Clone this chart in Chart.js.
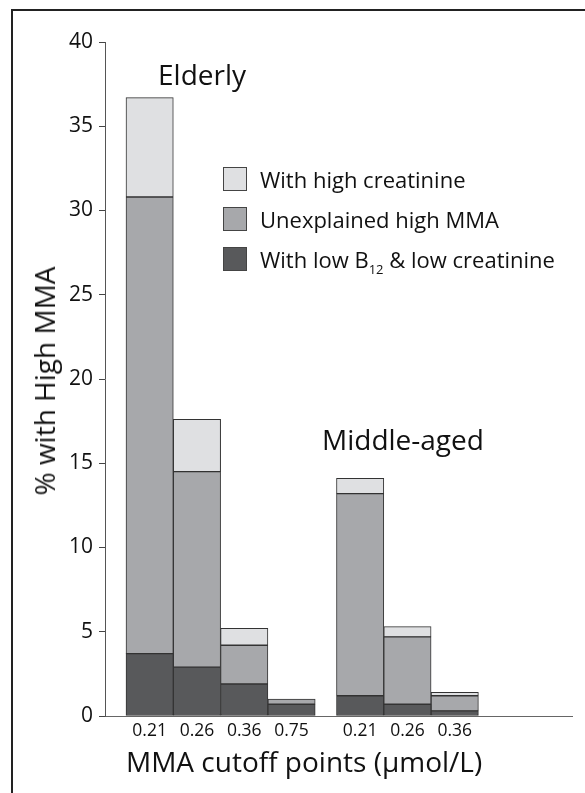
<!DOCTYPE html>
<html>
<head>
<meta charset="utf-8">
<title>% with High MMA</title>
<script src="https://cdn.jsdelivr.net/npm/chart.js@4.4.1/dist/chart.umd.min.js"></script>
<style>
    body { margin: 0; background: #fff; overflow: hidden; font-family: 'Open Sans', sans-serif; color: #111; }
    .wrap { position: relative; width: 585px; height: 793px; overflow: hidden; }
    .frame { position: absolute; left: 11px; top: 9px; width: 640px; height: 840px; border: 2px solid #222; }
    .wrap canvas { position: absolute; left: 0; top: 0; }
    .txt { position: absolute; white-space: nowrap; line-height: 1; }
    .group { font-size: 28px; }
    .ytitle { font-size: 28px; left: 44px; top: 381px; transform: translate(-50%, -50%) rotate(-90deg); }
    .xtitle { font-size: 28px; left: 126px; top: 747px; }
    .legend .box { position: absolute; left: 223px; width: 24px; height: 24px; box-sizing: border-box; border: 1px solid #444; }
    .legend .lbl { position: absolute; left: 260px; font-size: 22px; line-height: 1; white-space: nowrap; }
    .legend sub { font-size: 13px; vertical-align: -6px; }
</style>
</head>
<body>
<div class="wrap">
    <div class="frame"></div>
    <canvas class="mma_canvas" width="585" height="793"></canvas>
    <div class="txt group" style="left:158px; top:60px;">Elderly</div>
    <div class="txt group" style="left:322px; top:425px;">Middle-aged</div>
    <div class="txt ytitle">% with High MMA</div>
    <div class="txt xtitle">MMA cutoff points (µmol/L)</div>
    <div class="legend">
        <div class="box" style="top:167px; background:#dfe0e2;"></div>
        <div class="lbl" style="top:168px;">With high creatinine</div>
        <div class="box" style="top:207px; background:#a7a8ab;"></div>
        <div class="lbl" style="top:208px;">Unexplained high MMA</div>
        <div class="box" style="top:247px; background:#58595b;"></div>
        <div class="lbl" style="top:248px;">With low B<sub>12</sub> &amp; low creatinine</div>
    </div>
</div>
<script>
// cutoff for each bar, and which age group it belongs to (0 = Elderly, 1 = Middle-aged)
const cutoffs = ['0.21', '0.26', '0.36', '0.75', '0.21', '0.26', '0.36'];
const ageGroup = [0, 0, 0, 0, 1, 1, 1];

// % with high MMA, split in three parts
const lowB12 = [3.7, 2.9, 1.9, 0.7, 1.2, 0.7, 0.3];
const unexplained = [27.1, 11.6, 2.3, 0.3, 12.0, 4.0, 0.9];
const highCreatinine = [5.9, 3.1, 1.0, 0, 0.9, 0.6, 0.2];

const yTicks = [0, 5, 10, 15, 20, 25, 30, 35, 40];

// little gap between the two age groups (in bar widths)
const groupGap = 0.45;
const xPos = cutoffs.map(function(c, i) { return i + ageGroup[i] * groupGap; });

window.onload = function() {
    Chart.defaults.font.family = "'Open Sans', sans-serif";
    Chart.defaults.color = '#111';

    const ctx = document.querySelector(".mma_canvas");
    const mma_canvas = new Chart(ctx, {
        type: 'bar',
        data: {
            labels: xPos,
            datasets: [{
                label: 'With low B12 & low creatinine',
                data: lowB12,
                backgroundColor: '#58595b'
            }, {
                label: 'Unexplained high MMA',
                data: unexplained,
                backgroundColor: '#a7a8ab'
            }, {
                label: 'With high creatinine',
                data: highCreatinine,
                backgroundColor: '#dfe0e2'
            }]
        },
        options: {
            responsive: false,
            animation: false,
            devicePixelRatio: 1,
            layout: {
                padding: { left: 0, top: 42, right: 13, bottom: 0 }
            },
            datasets: {
                bar: {
                    barPercentage: 1,
                    categoryPercentage: 1,
                    borderColor: '#333',
                    borderWidth: 1,
                    borderSkipped: false
                }
            },
            plugins: {
                legend: { display: false },
                tooltip: { enabled: false }
            },
            scales: {
                x: {
                    type: 'linear',
                    stacked: true,
                    offset: false,
                    min: -0.944,
                    max: 8.929,
                    grid: { display: false, drawTicks: false, offset: false },
                    border: { display: true, color: '#666', width: 1 },
                    afterBuildTicks: function(scale) {
                        scale.ticks = xPos.map(function(v) { return { value: v }; });
                    },
                    ticks: {
                        autoSkip: false,
                        maxRotation: 0,
                        padding: 5,
                        font: { size: 17.5 },
                        callback: function(v, i) { return cutoffs[i]; }
                    },
                    afterFit: function(scale) { scale.height = 77; }
                },
                y: {
                    stacked: true,
                    min: 0,
                    max: 40,
                    grid: { display: true, drawOnChartArea: false, drawTicks: true, tickLength: 6, color: '#444', lineWidth: 1 },
                    border: { display: true, color: '#555', width: 1 },
                    afterBuildTicks: function(scale) {
                        scale.ticks = yTicks.map(function(v) { return { value: v }; });
                    },
                    ticks: {
                        padding: 6,
                        font: { size: 21 }
                    },
                    afterFit: function(scale) { scale.width = 105; }
                }
            }
        }
    });
}
</script>
</body>
</html>
